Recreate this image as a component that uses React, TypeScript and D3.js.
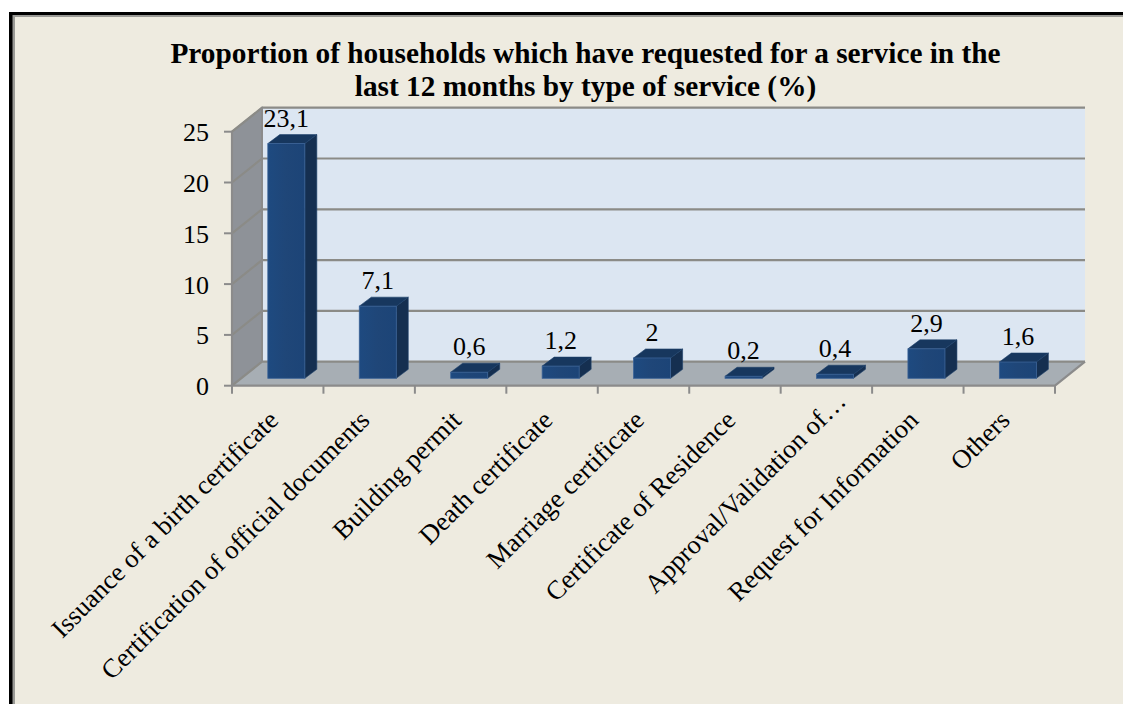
import React from "react";
import * as d3 from "d3";

const categories = ["Issuance of a birth certificate","Certification of official documents","Building permit","Death certificate","Marriage certificate","Certificate of Residence","Approval/Validation of…","Request for Information","Others"];
const values = [23.1,7.1,0.6,1.2,2,0.2,0.4,2.9,1.6];
const valueLabels = ["23,1","7,1","0,6","1,2","2","0,2","0,4","2,9","1,6"];
const yTicks = [0,5,10,15,20,25];
const titleLines = ["Proportion of households which have requested for a service in the","last 12 months by type of service (%)"];

const W = 1123, H = 704;
const FONT = "'Liberation Serif','Times New Roman',serif";
const x = d3.scaleBand<string>().domain(categories).range([232,1055]);
const y = d3.scaleLinear().domain([0,25]).range([385.7,131.7]);
const DX = 30, DY = -24;      // floor depth
const BX = 12, BY = -9;       // bar depth
const BW = 37;                // bar front width
const BAR_SHIFT_X = 8.6, BAR_SHIFT_Y = -7.4;
const pts = (a:number[][]) => a.map(p=>p.join(",")).join(" ");

export default function App(){
  const x0 = x.range()[0], x1 = x.range()[1];
  const y0 = y(0), yT = y(25);
  return (
    <svg width={W} height={H} viewBox={`0 0 ${W} ${H}`} style={{position:"absolute",left:0,top:0,display:"block"}}>
      <defs>
        <linearGradient id="front" x1="0" x2="1" y1="0" y2="0">
          <stop offset="0" stopColor="#1e4a80"/><stop offset="0.5" stopColor="#1f4678"/><stop offset="1" stopColor="#1c4477"/>
        </linearGradient>
      </defs>
      <rect x={0} y={0} width={W} height={H} fill="#ffffff"/>
      <rect x={9} y={12} width={W-9} height={H-12} fill="#000000"/>
      <rect x={12.5} y={15} width={W-12.5} height={H-15} fill="#9a9a96"/>
      <rect x={15} y={17} width={W-15} height={H-17} fill="#eeebe0"/>

      {titleLines.map((t,i)=>(
        <text key={t} x={585.5} y={62.7+i*33.3} textAnchor="middle" fontFamily={FONT} fontWeight="bold" fontSize={29.3} fill="#000">{t}</text>
      ))}

      {/* back wall */}
      <polygon points={pts([[x0+DX,yT+DY],[x1+DX,yT+DY],[x1+DX,y0+DY],[x0+DX,y0+DY]])} fill="#dce6f2"/>
      {/* side wall */}
      <polygon points={pts([[x0,yT],[x0+DX,yT+DY],[x0+DX,y0+DY],[x0,y0]])} fill="#8e9298" stroke="#8c9095" strokeWidth={1.5}/>
      {/* floor */}
      <polygon points={pts([[x0,y0],[x0+DX,y0+DY],[x1+DX,y0+DY],[x1,y0]])} fill="#a7aeb4"/>

      {/* gridlines */}
      {yTicks.map(t=>(
        <polyline key={t} points={pts([[x0,y(t)],[x0+DX,y(t)+DY],[x1+DX,y(t)+DY]])} fill="none" stroke="#8b8b87" strokeWidth={2.2}/>
      ))}
      <line x1={x0+DX} x2={x0+DX} y1={yT+DY} y2={y0+DY} stroke="#8b8b8b" strokeWidth={2}/>
      {/* floor front/right edge */}
      <polyline points={pts([[x0,y0],[x1,y0],[x1+DX,y0+DY]])} fill="none" stroke="#8b8b8b" strokeWidth={2.2}/>
      {/* left axis */}
      <line x1={x0} x2={x0} y1={yT} y2={y0} stroke="#8b8b8b" strokeWidth={2.2}/>

      {/* y ticks and labels */}
      {yTicks.map(t=>(
        <g key={t}>
          <line x1={x0-8} x2={x0} y1={y(t)} y2={y(t)} stroke="#8b8b8b" strokeWidth={2}/>
          <text x={209} y={y(t)+9.5} textAnchor="end" fontFamily={FONT} fontSize={26} fill="#000">{t}</text>
        </g>
      ))}
      {/* x ticks */}
      {[...categories.map(c=>x(c) as number), x1].map((tx,i)=>(
        <line key={i} x1={tx} x2={tx} y1={y0} y2={y0+8} stroke="#8b8b8b" strokeWidth={2}/>
      ))}

      {/* bars */}
      {categories.map((c,i)=>{
        const cx = (x(c) as number) + x.bandwidth()/2 + BAR_SHIFT_X;
        const l = cx-BW/2, r = cx+BW/2;
        const b = y(0)+BAR_SHIFT_Y, tp = y(values[i])+BAR_SHIFT_Y;
        return (
          <g key={c}>
            <polygon points={pts([[r,tp],[r+BX,tp+BY],[r+BX,b+BY],[r,b]])} fill="#152f50" stroke="#1c3f6a" strokeWidth={0.6}/>
            <polygon points={pts([[l,tp],[l+BX,tp+BY],[r+BX,tp+BY],[r,tp]])} fill="#17375e" stroke="#1c3f6a" strokeWidth={0.6}/>
            <rect x={l} y={tp} width={BW} height={b-tp} fill="url(#front)" stroke="#3a6296" strokeWidth={0.8}/>
            <text x={cx} y={tp-17} textAnchor="middle" fontFamily={FONT} fontSize={26} fill="#000">{valueLabels[i]}</text>
          </g>
        );
      })}

      {/* category labels: a truncated label sits further along the slant */}
      {categories.map(c=>{
        const tx = (x(c) as number)+x.bandwidth()/2;
        const along = c.endsWith("…") ? 19 : 0;
        return (
          <text key={c} transform={`translate(${tx+2+along},${y0+36-along}) rotate(-45)`} textAnchor="end" fontFamily={FONT} fontSize={26.5} fill="#000">{c}</text>
        );
      })}
    </svg>
  );
}
